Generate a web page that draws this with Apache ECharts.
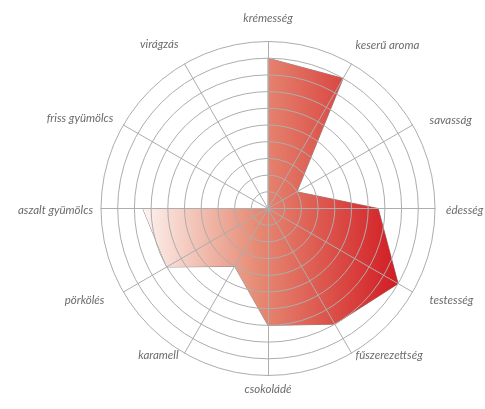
<!DOCTYPE html>
<html>
<head>
<meta charset="utf-8">
<script src="https://cdn.jsdelivr.net/npm/echarts@6/dist/echarts.min.js"></script>
<style>
html,body{margin:0;padding:0;background:#fff;}
#chart{width:485px;height:409px;}
</style>
</head>
<body>
<div id="chart"></div>
<script>
// Natural (clockwise) order, starting at the top
var indicatorNames = ['krémesség','keserű aroma','savasság','édesség','testesség','fűszerezettség','csokoládé','karamell','pörkölés','aszalt gyümölcs','friss gyümölcs','virágzás'];
var values = [9, 9, 2, 6.6, 9, 8, 7, 4, 7, 7.5, 0, 0];
var maxValue = 10;

// small per-label nudges (padding [top, right, bottom, left]) to match label placement
var labelPadding = [
  [0,0,9,0],  [0,0,24,0], [0,0,2,10], [3,0,0,3],
  [8,0,0,10], [0,0,10,0], [0,0,0,0],  [0,2,10,0],
  [8,12,0,0], [3,0,0,0],  [0,3,6,0],  [0,2,26,0]
];

// ECharts lays indicators out counter-clockwise: keep the first, reverse the rest
function clockwise(arr){ return [arr[0]].concat(arr.slice(1).reverse()); }

var fontBase = {
  color: '#6b6b6b',
  fontFamily: 'Lato, "Liberation Sans", sans-serif',
  fontStyle: 'italic',
  fontSize: 11.5
};
var rich = {};
labelPadding.forEach(function(p, i){
  rich['p' + i] = Object.assign({ padding: p }, fontBase);
});

var chart = echarts.init(document.getElementById('chart'), null, {renderer:'canvas'});
chart.setOption({
  animation: false,
  backgroundColor: '#fff',
  radar: {
    center: [268, 208.5],
    radius: 167,
    startAngle: 90,
    splitNumber: 10,
    shape: 'circle',
    z: 3,
    nameGap: 8,
    indicator: clockwise(indicatorNames).map(function(n){ return {name: n, max: maxValue, min: 0}; }),
    axisName: Object.assign({
      formatter: function(name){
        var i = indicatorNames.indexOf(name);
        return '{p' + i + '|' + name + '}';
      },
      rich: rich
    }, fontBase),
    splitLine: { lineStyle: { color: '#adadad', width: 1 } },
    axisLine: { lineStyle: { color: '#adadad', width: 1 } },
    splitArea: { show: false }
  },
  series: [{
    type: 'radar',
    z: 1,
    symbol: 'none',
    lineStyle: { color: '#8a8a8a', width: 1 },
    areaStyle: {
      opacity: 1,
      color: new echarts.graphic.LinearGradient(0, 0, 1, 0, [
        {offset: 0, color: '#fdf3f0'},
        {offset: 0.45, color: '#e68a73'},
        {offset: 1, color: '#d21c24'}
      ])
    },
    data: [{ value: clockwise(values), name: 'profil' }]
  }]
});
</script>
</body>
</html>
